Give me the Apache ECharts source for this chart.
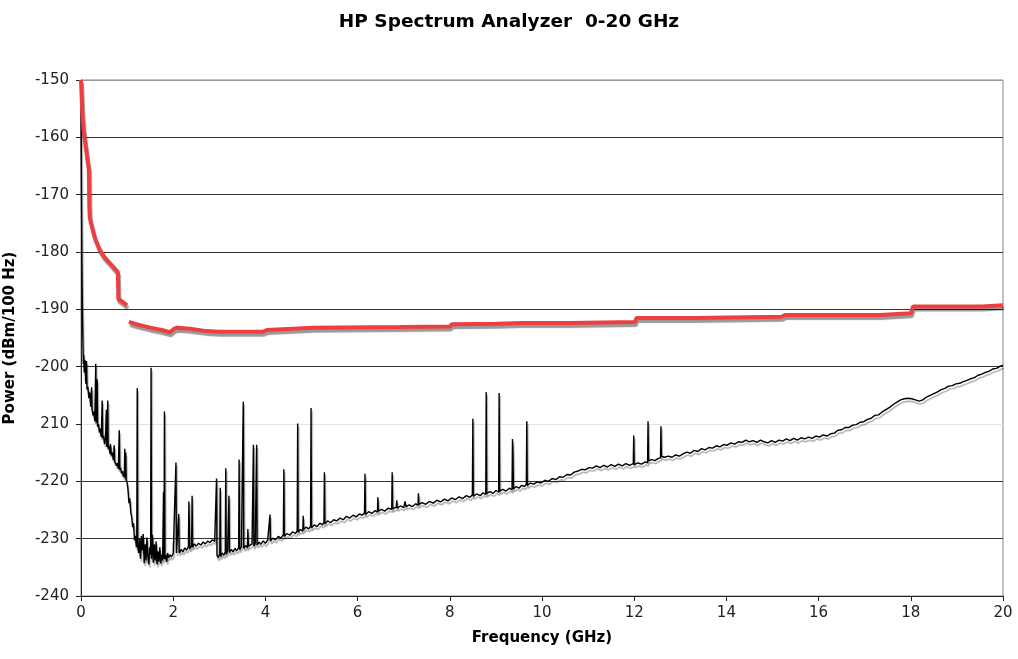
<!DOCTYPE html>
<html>
<head>
<meta charset="utf-8">
<script src="https://cdn.jsdelivr.net/npm/echarts@6/dist/echarts.min.js"></script>
<style>
  html, body { margin: 0; padding: 0; background: #fff; }
  #main { width: 1018px; height: 659px; }
</style>
</head>
<body>
<div id="main"></div>
<script>
// y ticks from -240 to -150, every 10 dB
const yTicks = [-240, -230, -220, -210, -200, -190, -180, -170, -160, -150];
const xTicks = [0, 2, 4, 6, 8, 10, 12, 14, 16, 18, 20];

// red trace (upper reference level), [GHz, dBm/100Hz]; null = gap
const redTrace = [
  [0, -150], [0.03, -156], [0.06, -159], [0.1, -161.5], [0.15, -164.5], [0.17, -165.5],
  [0.18, -172], [0.19, -174], [0.25, -176], [0.3, -177.5], [0.4, -179.5], [0.5, -180.8],
  [0.6, -181.7], [0.7, -182.6], [0.8, -183.5], [0.81, -188.2], [0.9, -188.7], [1.0, -189.3],
  [1.02, null],
  [1.04, -192.2], [1.2, -192.6], [1.5, -193.2], [1.75, -193.6], [1.93, -194.0], [2.0, -193.5],
  [2.08, -193.2], [2.36, -193.4], [2.73, -193.8], [3.0, -193.9], [3.95, -193.9], [4.03, -193.6],
  [5.04, -193.2], [6.92, -193.1], [6.95, -193.0], [8.0, -193.0], [8.04, -192.6], [9.02, -192.5],
  [9.56, -192.4], [10.6, -192.4], [10.64, -192.2], [12.02, -192.2], [12.05, -191.5], [13.3, -191.5],
  [13.32, -191.3], [15.2, -191.3], [15.27, -191.0], [17.33, -191.0], [17.35, -190.7], [18.0, -190.7],
  [18.05, -189.5], [19.54, -189.5], [19.56, -189.3], [20, -189.3]
];

// black trace (measured spectrum with spurs), [GHz, dBm/100Hz]
const blackTrace = [
  [0, -155], [0.01, -170], [0.02, -182], [0.03, -190], [0.04, -195], [0.05, -199.5], [0.06, -198],
  [0.07, -201], [0.08, -200], [0.09, -198.9], [0.10, -202.5], [0.11, -203], [0.12, -199], [0.13, -204],
  [0.15, -203.5], [0.17, -205.5], [0.19, -204.5], [0.21, -207], [0.23, -203.6], [0.24, -207.5],
  [0.26, -208.5], [0.28, -207.8], [0.30, -209.5], [0.32, -199.5], [0.33, -209.8], [0.35, -202.2],
  [0.36, -210.5], [0.38, -210], [0.40, -211.5], [0.42, -210.8], [0.44, -212.3], [0.46, -205.9],
  [0.47, -212.5], [0.49, -212], [0.51, -213.5], [0.53, -212.8], [0.55, -207.5], [0.56, -214],
  [0.58, -205.9], [0.59, -214.3], [0.61, -213.8], [0.63, -215.2], [0.64, -213.5], [0.66, -215.5],
  [0.68, -215], [0.70, -216.3], [0.72, -213.7], [0.73, -216.5], [0.75, -216.2], [0.77, -217.3],
  [0.79, -216.8], [0.81, -217.8], [0.83, -211.1], [0.84, -218], [0.86, -217.6], [0.88, -218.6],
  [0.90, -218.2], [0.92, -219.2], [0.94, -218.8], [0.95, -214.3], [0.96, -219.5], [0.97, -215],
  [0.98, -219.8], [1.00, -220.2], [1.02, -221.5], [1.04, -223.8], [1.06, -223], [1.08, -225.5],
  [1.10, -226.2], [1.12, -228], [1.14, -227.3], [1.16, -230.3], [1.18, -229.5], [1.20, -231.5],
  [1.21, -230.8], [1.22, -203.7], [1.23, -231.2], [1.25, -232.5], [1.27, -230], [1.29, -233.5],
  [1.31, -229.5], [1.33, -232], [1.35, -229.2], [1.37, -234.3], [1.39, -231], [1.41, -233.8],
  [1.43, -229.8], [1.45, -233], [1.47, -234.5], [1.49, -231.5], [1.51, -232.8], [1.52, -200.2],
  [1.53, -233.5], [1.55, -229.3], [1.57, -234.2], [1.59, -231], [1.61, -233.8], [1.63, -230.5],
  [1.65, -234.5], [1.67, -232.2], [1.69, -234], [1.71, -231.5], [1.73, -234.3], [1.75, -232.8],
  [1.77, -233.8], [1.79, -221.8], [1.80, -233.5], [1.81, -207.8], [1.82, -233.6], [1.84, -232.8],
  [1.86, -234], [1.88, -232.5], [1.90, -233.3], [1.93, -232.8], [1.96, -233.2],
  [2.00, -232.6], [2.03, -232.9], [2.06, -216.7], [2.07, -232.5], [2.10, -232.2], [2.12, -225.7],
  [2.13, -232.5], [2.17, -231.9], [2.21, -232.3], [2.25, -231.6], [2.29, -232], [2.33, -231.4],
  [2.34, -223.5], [2.36, -231.8], [2.40, -231.2], [2.41, -222.5], [2.42, -231.5], [2.46, -230.9],
  [2.50, -231.3], [2.55, -230.8], [2.60, -231.1], [2.65, -230.6], [2.70, -230.9], [2.75, -230.4],
  [2.80, -230.7], [2.85, -230.2], [2.90, -230.5], [2.93, -230.3], [2.94, -219.5],
  [2.95, -232.9], [2.98, -233.3], [3.01, -232.6], [3.02, -221.1], [3.03, -233.1], [3.06, -232.5],
  [3.10, -232.9], [3.13, -232.3], [3.14, -217.7], [3.15, -232.7], [3.18, -232.1], [3.21, -222.5],
  [3.22, -232.4], [3.26, -231.9], [3.30, -232.3], [3.34, -231.7], [3.38, -232.1], [3.42, -231.5],
  [3.43, -216.2], [3.44, -231.9], [3.48, -231.4], [3.52, -206.1], [3.53, -231.7], [3.57, -231.2],
  [3.61, -231.6], [3.62, -228.3], [3.63, -231.3], [3.67, -231.5], [3.71, -230.9], [3.74, -213.6],
  [3.75, -231.3], [3.78, -230.8], [3.81, -213.6], [3.82, -231.1], [3.86, -230.6], [3.90, -231],
  [3.95, -230.4], [4.00, -230.8], [4.05, -230.2], [4.10, -225.8], [4.11, -230.4], [4.16, -229.9],
  [4.22, -230.2], [4.28, -229.6], [4.34, -229.9], [4.39, -229.3], [4.40, -217.9], [4.41, -229.6],
  [4.47, -229.1], [4.53, -229.4], [4.59, -228.8], [4.65, -229.1], [4.69, -228.6], [4.70, -209.9],
  [4.71, -228.9], [4.76, -228.4], [4.81, -228.7], [4.82, -226], [4.83, -228.4], [4.88, -228],
  [4.94, -228.3], [4.98, -227.8], [4.99, -207.2], [5.00, -228.1], [5.06, -227.6], [5.12, -227.9],
  [5.18, -227.3], [5.24, -227.6], [5.27, -227.1], [5.28, -218.4], [5.29, -227.4], [5.35, -226.9],
  [5.42, -227.2], [5.48, -226.7], [5.55, -226.9], [5.62, -226.4], [5.69, -226.7], [5.76, -226.1],
  [5.83, -226.4], [5.90, -225.9], [5.97, -226.2], [6.04, -225.7], [6.10, -225.9], [6.15, -225.5],
  [6.16, -218.7], [6.17, -225.8], [6.24, -225.3], [6.31, -225.6], [6.38, -225.1], [6.43, -225.4],
  [6.44, -222.8], [6.45, -225.2], [6.52, -224.9], [6.59, -225.2], [6.66, -224.7], [6.74, -224.9],
  [6.75, -218.4], [6.76, -224.8], [6.84, -224.5], [6.85, -223.3], [6.86, -224.7], [6.93, -224.3],
  [7.00, -224.6], [7.03, -223.5], [7.05, -224.4], [7.12, -224.1], [7.19, -224.4], [7.26, -223.9],
  [7.31, -224.2], [7.32, -222.1], [7.33, -224], [7.40, -223.7], [7.48, -224], [7.56, -223.5],
  [7.64, -223.8], [7.72, -223.3], [7.80, -223.6], [7.88, -223.1], [7.96, -223.4], [8.04, -222.9],
  [8.12, -223.2], [8.20, -222.7], [8.28, -223], [8.36, -222.5], [8.44, -222.8], [8.49, -222.3],
  [8.50, -209.1], [8.51, -222.6], [8.58, -222.2], [8.66, -222.5], [8.72, -222], [8.78, -222.3],
  [8.79, -204.4], [8.80, -222.1], [8.87, -221.8], [8.94, -222.1], [9.00, -221.6], [9.06, -221.9],
  [9.07, -204.6], [9.08, -221.7], [9.15, -221.4], [9.22, -221.7], [9.29, -221.2], [9.35, -221.5],
  [9.36, -212.6], [9.37, -214.9], [9.38, -221.3], [9.44, -220.9], [9.50, -221.2], [9.56, -220.7],
  [9.62, -220.9], [9.66, -220.5], [9.67, -209.5], [9.68, -220.7], [9.75, -220.3], [9.82, -220.5],
  [9.90, -220.1], [9.98, -220.3], [10.06, -219.8], [10.14, -220], [10.22, -219.5], [10.30, -219.7],
  [10.38, -219.2], [10.46, -219.3], [10.54, -218.8], [10.62, -218.9], [10.70, -218.4], [10.78, -218.2],
  [10.86, -217.9], [10.94, -218], [11.02, -217.6], [11.10, -217.7], [11.18, -217.3], [11.26, -217.6],
  [11.34, -217.2], [11.42, -217.5], [11.50, -217.1], [11.58, -217.4], [11.66, -217], [11.74, -217.3],
  [11.82, -216.9], [11.90, -217.2], [11.98, -216.9], [11.99, -212], [12.00, -217.1], [12.08, -216.8],
  [12.16, -217], [12.24, -216.6], [12.29, -216.8], [12.30, -209.5], [12.31, -216.4], [12.38, -216.2],
  [12.45, -216.4], [12.52, -216], [12.57, -215.9], [12.58, -210.4], [12.59, -215.6], [12.66, -215.8],
  [12.74, -215.6], [12.82, -215.8], [12.90, -215.4], [12.98, -215.6], [13.06, -215.2], [13.14, -214.9],
  [13.22, -215.1], [13.30, -214.6], [13.38, -214.8], [13.46, -214.3], [13.54, -214.5], [13.62, -214.1],
  [13.70, -214.2], [13.78, -213.8], [13.86, -214], [13.94, -213.6], [14.02, -213.7], [14.10, -213.3],
  [14.18, -213.5], [14.26, -213.1], [14.34, -213.2], [14.42, -212.8], [14.50, -213.1], [14.58, -212.9],
  [14.66, -213.2], [14.74, -212.8], [14.82, -213.1], [14.90, -213.3], [14.98, -212.9], [15.06, -213.2],
  [15.14, -212.8], [15.22, -213], [15.30, -212.6], [15.38, -212.9], [15.46, -212.5], [15.54, -212.8],
  [15.62, -212.4], [15.70, -212.6], [15.78, -212.3], [15.86, -212.5], [15.94, -212.1], [16.02, -212.3],
  [16.10, -211.9], [16.18, -212.1], [16.26, -211.7], [16.34, -211.6], [16.42, -211.1], [16.50, -211],
  [16.58, -210.6], [16.66, -210.6], [16.74, -210.2], [16.82, -210.1], [16.90, -209.7], [16.98, -209.6],
  [17.06, -209.2], [17.14, -209], [17.22, -208.5], [17.30, -208.4], [17.38, -207.9], [17.46, -207.5],
  [17.54, -207.1], [17.62, -206.6], [17.70, -206.2], [17.78, -205.8], [17.86, -205.6], [17.94, -205.5],
  [18.02, -205.6], [18.10, -205.8], [18.18, -206], [18.26, -205.8], [18.34, -205.3], [18.42, -205],
  [18.50, -204.7], [18.58, -204.4], [18.66, -204], [18.74, -203.8], [18.82, -203.4], [18.90, -203.3],
  [18.98, -203], [19.06, -202.9], [19.14, -202.6], [19.22, -202.4], [19.30, -202.1], [19.38, -201.9],
  [19.46, -201.5], [19.54, -201.3], [19.62, -201], [19.70, -200.8], [19.78, -200.4], [19.86, -200.3],
  [19.94, -199.9], [20.00, -199.8]
];

// the -210 grid line is faint in the original, and its label has no minus sign
const gridColors = yTicks.map(v => v === -210 ? '#e4e4e4' : (v === -150 ? '#999' : '#333'));

const font = 'DejaVu Sans';
const chart = echarts.init(document.getElementById('main'));

chart.setOption({
  animation: false,
  backgroundColor: '#fff',
  title: {
    text: 'HP Spectrum Analyzer  0-20 GHz',
    left: 'center',
    top: 8,
    textStyle: { fontFamily: font, fontSize: 18.5, fontWeight: 'bold', color: '#000' }
  },
  grid: {
    left: 81, right: 15, top: 80, bottom: 63,
    outerBoundsMode: 'none',
    containLabel: false,
    show: true, borderColor: '#888', borderWidth: 1
  },
  xAxis: {
    type: 'value',
    min: 0, max: 20, interval: 2,
    name: 'Frequency (GHz)',
    nameLocation: 'middle',
    nameGap: 35,
    nameTextStyle: { fontFamily: font, fontSize: 15, fontWeight: 'bold', color: '#000' },
    axisLine: { lineStyle: { color: '#222', width: 1 } },
    axisTick: { show: true, length: 5, lineStyle: { color: '#222' } },
    axisLabel: { fontFamily: font, fontSize: 15, color: '#222', margin: 10 },
    splitLine: { show: false }
  },
  yAxis: {
    type: 'value',
    min: -240, max: -150, interval: 10,
    name: 'Power (dBm/100 Hz)',
    nameLocation: 'middle',
    nameGap: 63,
    nameRotate: 90,
    nameTextStyle: { fontFamily: font, fontSize: 15, fontWeight: 'bold', color: '#000' },
    axisLine: { show: true, lineStyle: { color: '#222', width: 1 } },
    axisTick: { show: true, length: 5, lineStyle: { color: '#222' } },
    axisLabel: {
      fontFamily: font, fontSize: 15, color: '#222', margin: 12,
      formatter: v => (v === -210 ? '210' : String(v))
    },
    splitLine: { show: true, lineStyle: { color: gridColors, width: 1 } }
  },
  series: [
    {
      name: 'trace',
      type: 'line',
      data: blackTrace,
      symbol: 'none',
      z: 2,
      lineStyle: {
        color: '#000', width: 1.4,
        shadowColor: 'rgba(0,0,0,0.35)', shadowBlur: 1, shadowOffsetX: 1, shadowOffsetY: 3
      }
    },
    {
      name: 'reference',
      type: 'line',
      data: redTrace,
      symbol: 'none',
      connectNulls: false,
      z: 3,
      lineStyle: {
        color: '#ec4040', width: 4,
        shadowColor: 'rgba(0,0,0,0.4)', shadowBlur: 1, shadowOffsetX: 1, shadowOffsetY: 3
      }
    }
  ]
});
</script>
</body>
</html>
